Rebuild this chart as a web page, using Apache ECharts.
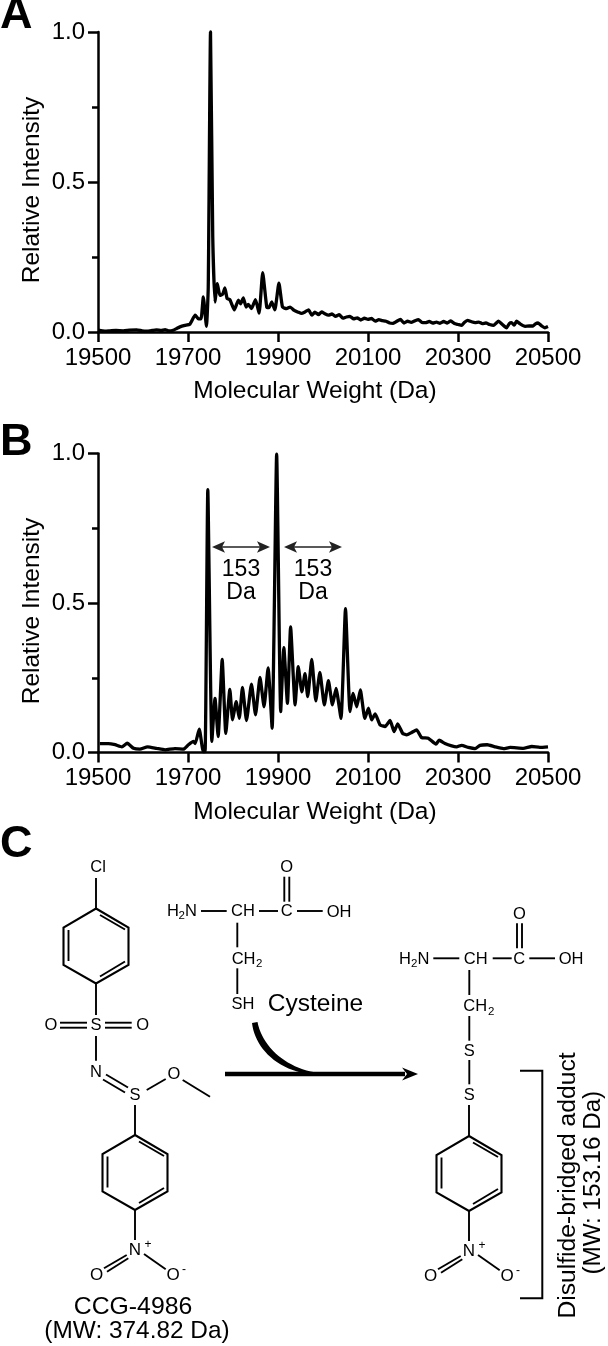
<!DOCTYPE html>
<html><head><meta charset="utf-8">
<style>html,body{margin:0;padding:0;background:#fff}#c{width:608px;height:1346px}</style>
<script src="https://cdn.jsdelivr.net/npm/echarts@6/dist/echarts.min.js"></script>
</head><body><div id="c"></div>
<script>
const xTicks=[19500,19700,19900,20100,20300,20500];
const massA=[19501,19515,19527,19540,19556,19570,19586,19598,19608,19620,19630,19640,19649,19658,19667,19675,19682,19693,19704,19716,19723,19729,19734,19741,19745,19750,19755,19760,19765,19771,19777,19782,19787,19793,19803,19812,19817,19823,19829,19834,19841,19850,19858,19866,19875,19880,19886,19893,19902,19910,19919,19927,19936,19945,19952,19960,19968,19975,19982,19990,19997,20004,20012,20020,20028,20036,20044,20052,20060,20068,20076,20084,20092,20100,20108,20116,20124,20132,20140,20148,20156,20164,20172,20180,20188,20196,20204,20212,20220,20228,20236,20244,20252,20260,20268,20276,20284,20292,20300,20308,20314,20321,20330,20338,20346,20354,20362,20370,20379,20385,20390,20398,20408,20414,20419,20425,20430,20438,20449,20458,20467,20472,20478,20486,20493,20500];
const intA=[0.006,0.003,0.004,0.005,0.004,0.006,0.007,0.004,0.003,0.005,0.007,0.005,0.008,0.004,0.006,0.012,0.017,0.022,0.026,0.056,0.044,0.044,0.117,0.019,0.15,1.0,0.317,0.10,0.161,0.122,0.126,0.147,0.111,0.108,0.074,0.106,0.094,0.114,0.083,0.092,0.078,0.108,0.063,0.198,0.083,0.081,0.10,0.074,0.163,0.083,0.078,0.083,0.072,0.066,0.062,0.067,0.074,0.056,0.066,0.058,0.067,0.061,0.056,0.060,0.052,0.058,0.046,0.050,0.052,0.044,0.047,0.040,0.046,0.042,0.045,0.036,0.041,0.038,0.036,0.030,0.029,0.036,0.042,0.030,0.036,0.032,0.037,0.041,0.032,0.031,0.035,0.030,0.033,0.029,0.035,0.030,0.037,0.028,0.025,0.022,0.032,0.039,0.034,0.031,0.033,0.028,0.030,0.025,0.022,0.030,0.036,0.026,0.014,0.028,0.031,0.023,0.036,0.027,0.019,0.020,0.020,0.027,0.030,0.020,0.014,0.018];
const massB=[19504,19523,19538,19553,19565,19579,19593,19610,19630,19649,19671,19690,19701,19712,19716,19725,19734,19738,19744,19753,19760,19767,19776,19784,19793,19799,19807,19814,19821,19830,19841,19850,19860,19869,19878,19887,19897,19906,19913,19921,19928,19938,19945,19953,19960,19966,19975,19984,19993,20003,20012,20021,20029,20040,20050,20060,20067,20075,20083,20093,20101,20108,20116,20127,20138,20149,20158,20166,20177,20186,20197,20208,20219,20234,20251,20258,20271,20286,20297,20308,20323,20338,20349,20365,20382,20401,20416,20445,20464,20482,20500];
const intB=[0.03,0.03,0.026,0.019,0.031,0.014,0.011,0.019,0.014,0.009,0.013,0.011,0.026,0.037,0.03,0.078,0.003,0.003,0.879,0.037,0.181,0.053,0.311,0.064,0.211,0.109,0.17,0.114,0.218,0.107,0.229,0.126,0.251,0.153,0.283,0.081,0.998,0.137,0.351,0.164,0.42,0.159,0.287,0.203,0.264,0.187,0.311,0.173,0.268,0.159,0.24,0.159,0.214,0.114,0.481,0.137,0.198,0.153,0.209,0.114,0.148,0.109,0.129,0.092,0.087,0.107,0.07,0.096,0.064,0.059,0.067,0.076,0.05,0.048,0.028,0.041,0.03,0.022,0.019,0.024,0.017,0.013,0.024,0.026,0.019,0.013,0.017,0.014,0.02,0.017,0.019];
const panelLabels=[['A',0,16],['B',0,443],['C',0,845]];
const deltaArrows=[[212,270,547],[284,342,547]];
const deltaLabels=[['153',241,570],['Da',241,593],['153',313,570],['Da',313,593]];
const bonds=[
[96,878,96,908],[96,983.5,96,1015],[60,1022.7,87,1022.7],[60,1027.7,87,1027.7],[105,1022.7,131.7,1022.7],[105,1027.7,131.7,1027.7],[96,1036,96,1060.7],
[106,1074.5,128,1087.5],[103,1079.5,125,1092.5],[146.7,1090,165.7,1079],[182.7,1080,210,1096.7],[135,1105,135,1135],
[201,911,226.7,911],[259,911,278,911],[297,911,322.7,911],[284.3,876.7,284.3,901.7],[289.3,876.7,289.3,901.7],[237.3,922.7,237.3,947.3],[237.3,968.3,237.3,994],
[433.3,958.3,459.3,958.3],[492.7,958.3,511.7,958.3],[529.3,958.3,555,958.3],[517,923.3,517,948.3],[522,923.3,522,948.3],[469.3,970,469.3,995],[469.3,1016,469.3,1040.7],[469.3,1060,469.3,1084.3],[469,1105,469,1136]
];
const rings=[[96,908.5],[135,1135],[469,1136]];
const nitroAnchors=[[135,1210],[469,1211]];
const atomLabels=[['Cl',98,867],['S',96,1025.7],['O',51,1025.7],['O',142.7,1025.7],['N',96,1072],['S',135,1095],['O',174,1074.3],
['C',286.7,911.7],['O',286.7,867.7],['OH',339,912],['CH',243,911.7],['SH',243,1004],
['C',519.3,959],['O',519.3,914],['OH',571,959],['CH',475.7,959],['S',469.3,1051],['S',469.3,1095.7]];
const subLabels=[['H',167,911.7,'N',185,'2',178.5,916],['CH',231.7,959.3,'',0,'2',256,964],['H',399,959,'N',417.5,'2',411,963.5],['CH',463.3,1006.7,'',0,'2',488,1011.5]];
const bracket=[[520,1070.7],[542.3,1070.7],[542.3,1298.3],[520,1298.3]];
const font='"Liberation Sans",Arial,sans-serif';
const ink='#000';
const g=[];
function line(a,w,c){g.push({type:'line',shape:{x1:a[0],y1:a[1],x2:a[2],y2:a[3]},style:{stroke:c||ink,lineWidth:w||1.9},z:10});}
function txt(t,x,y,size,o){g.push({type:'text',x:x,y:y,rotation:(o&&o.rot)||0,style:{text:t,fill:ink,font:(o&&o.bold?'bold ':'')+size+'px '+font,align:(o&&o.align)||'center',verticalAlign:'middle'},z:11});}
function head(tx,ty,dir,len,hw,notch,c){g.push({type:'polygon',shape:{points:[[tx,ty],[tx-dir*len,ty-hw],[tx-dir*(len-notch),ty],[tx-dir*len,ty+hw]]},style:{fill:c||ink},z:11});}
function bez(p0,c0,c1,p1,n){const r=[];for(let i=0;i<=n;i++){const t=i/n,u=1-t;r.push([u*u*u*p0[0]+3*u*u*t*c0[0]+3*u*t*t*c1[0]+t*t*t*p1[0],u*u*u*p0[1]+3*u*u*t*c0[1]+3*u*t*t*c1[1]+t*t*t*p1[1]]);}return r;}
panelLabels.forEach(p=>txt(p[0],p[1],p[2],45,{bold:true,align:'left'}));
deltaArrows.forEach(a=>{line([a[0]+6,a[2],a[1]-6,a[2]],1.5,'#222');head(a[0],a[2],-1,13,5.7,3,'#222');head(a[1],a[2],1,13,5.7,3,'#222');});
deltaLabels.forEach(l=>txt(l[0],l[1],l[2],23));
bonds.forEach(b=>line(b));
rings.forEach(r=>{const [x,y]=r;
 g.push({type:'polygon',shape:{points:[[x,y],[x+32.5,y+19],[x+32.5,y+56.5],[x,y+75],[x-32.5,y+56.5],[x-32.5,y+19]]},style:{fill:'none',stroke:ink,lineWidth:2.1},z:10});
 line([x+4,y+6.5,x+29,y+21]);line([x-27.5,y+21.5,x-27.5,y+52.5]);line([x+4,y+68,x+29,y+53]);
});
nitroAnchors.forEach(n=>{const [x,y]=n;
 line([x,y,x,y+30]);line([x-31,y+58.3,x-8.3,y+45]);line([x-28,y+61.7,x-6.7,y+48.3]);line([x+9,y+44,x+30.7,y+59.3]);
 txt('N',x,y+40,17);txt('+',x+13,y+35,12);txt('O',x-38.3,y+65,17);txt('O',x+38,y+65.5,17);txt('-',x+49,y+60,12);
});
atomLabels.forEach(a=>txt(a[0],a[1],a[2],16.5));
subLabels.forEach(s=>{txt(s[0],s[1],s[2],16.5,{align:'left'});if(s[3])txt(s[3],s[4],s[2],16.5,{align:'left'});txt(s[5],s[6],s[7],11.5,{align:'left'});});
g.push({type:'polyline',shape:{points:bracket},style:{fill:'none',stroke:ink,lineWidth:2},z:10});
txt('Cysteine',315.5,1004,24.5);
txt('CCG-4986',133,1306.7,24.8);
txt('(MW: 374.82 Da)',137,1331.7,24.4);
txt('Disulfide-bridged adduct',568,1185.5,24.7,{rot:Math.PI/2});
txt('(MW: 153.16 Da)',593,1182.7,24.2,{rot:Math.PI/2});
line([225,1074,405,1074],4.5);
head(418,1074,1,16,6.5,5);
g.push({type:'polygon',shape:{points:bez([252,1023],[255,1050],[282,1077],[328,1075],24).concat(bez([328,1073.5],[292,1073],[263,1050],[257.5,1022],24))},style:{fill:ink},z:10});
function zip(a,b){return a.map((v,i)=>[v,b[i]]);}
const txS={color:ink,fontFamily:font,fontSize:24.5};
function xAx(i){return {type:'value',gridIndex:i,min:19500,max:20500,
 name:'Molecular Weight (Da)',nameLocation:'middle',nameGap:47,nameMoveOverlap:false,nameTextStyle:Object.assign({},txS,{padding:[0,16,0,0]}),
 axisLine:{onZero:false,lineStyle:{color:ink,width:2.5}},axisTick:{length:10,customValues:xTicks,lineStyle:{color:ink,width:2.5}},
 axisLabel:Object.assign({},txS,{fontSize:24,margin:14,customValues:xTicks,hideOverlap:false,formatter:v=>String(v)}),splitLine:{show:false}};}
function yAx(i){return {type:'value',gridIndex:i,min:0,max:1,interval:0.5,
 name:'Relative Intensity',nameLocation:'middle',nameGap:53,nameRotate:90,nameMoveOverlap:false,nameTextStyle:Object.assign({},txS,{padding:[0,16,0,0]}),
 axisLine:{show:true,lineStyle:{color:ink,width:2.5}},axisTick:{show:true,length:10,lineStyle:{color:ink,width:2.5}},
 minorTick:{show:true,splitNumber:2,length:6,lineStyle:{color:ink,width:2.5}},minorSplitLine:{show:false},
 axisLabel:Object.assign({},txS,{fontSize:24,margin:13,formatter:v=>v.toFixed(1)}),splitLine:{show:false}};}
function ser(i,d){return {type:'line',xAxisIndex:i,yAxisIndex:i,data:d,showSymbol:false,clip:false,smooth:0.15,lineStyle:{color:'#000',width:3.3,join:'round'},animation:false,z:3};}
const chart=echarts.init(document.getElementById('c'),null,{width:608,height:1346});
chart.setOption({animation:false,backgroundColor:'#fff',
 grid:[{left:98,right:60,top:32,height:300},{left:98,right:60,top:453.5,height:299}],
 xAxis:[xAx(0),xAx(1)],yAxis:[yAx(0),yAx(1)],
 series:[ser(0,zip(massA,intA)),ser(1,zip(massB,intB))],
 graphic:{elements:g}});
</script></body></html>
